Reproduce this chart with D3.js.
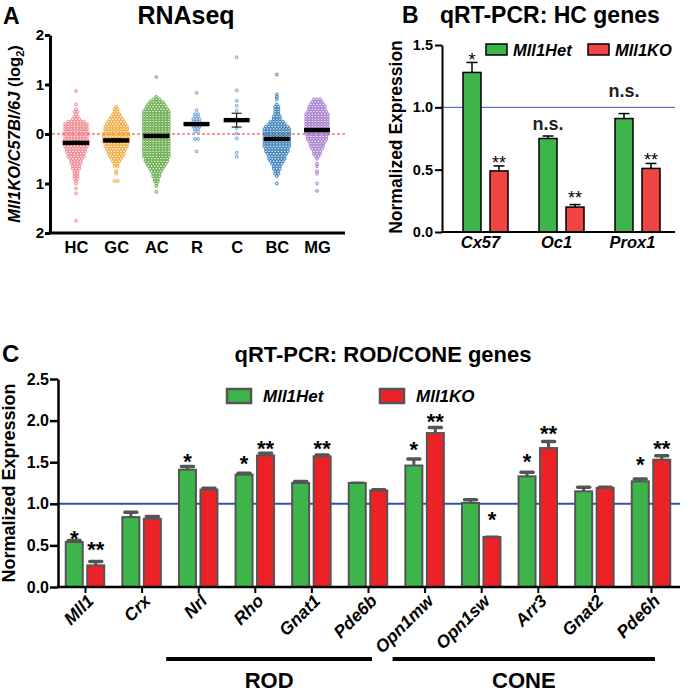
<!DOCTYPE html>
<html><head><meta charset="utf-8">
<script src="https://cdn.jsdelivr.net/npm/d3@7"></script>
<style>body{margin:0;background:#fff}svg{display:block}</style>
</head><body><svg id="fig" width="685" height="692"></svg>
<script>
// ================= DATA =================
// Panel A: RNAseq log2 ratios (rows of the Prism scatter: [value, number of cells in row])
const rnaGroups = ["HC","GC","AC","R","C","BC","MG"];
const rnaMeans  = [-0.18,-0.13,-0.04,0.20,0.28,-0.10,0.08];
const rnaSem    = [0.03,0.03,0.02,0.03,0.14,0.03,0.03];
const hcRows = [[0.87,1],[0.6,1],[0.5,1],[0.45,2],[0.4,1],[0.35,2],[0.3,3],[0.25,6],[0.2,8],[0.15,8],[0.1,8],[0.05,8],[0,9],[-0.05,8],[-0.1,8],[-0.15,9],[-0.2,9],[-0.25,8],[-0.3,7],[-0.35,7],[-0.4,6],[-0.45,6],[-0.5,5],[-0.55,4],[-0.6,4],[-0.65,3],[-0.7,3],[-0.75,2],[-0.8,2],[-0.85,2],[-0.9,2],[-0.95,1],[-1.0,1],[-1.1,1],[-1.2,1],[-1.75,1]];
const gcRows = [[0.55,1],[0.5,2],[0.45,2],[0.4,3],[0.35,4],[0.3,5],[0.25,6],[0.2,7],[0.15,8],[0.1,8],[0.05,8],[0,9],[-0.05,9],[-0.1,9],[-0.15,9],[-0.2,8],[-0.25,8],[-0.3,7],[-0.35,6],[-0.4,6],[-0.45,5],[-0.5,4],[-0.55,3],[-0.6,2],[-0.65,2],[-0.75,1],[-0.8,1],[-0.95,2]];
const acRows = [[1.15,1],[0.75,1],[0.7,3],[0.65,5],[0.6,6],[0.55,7],[0.5,8],[0.45,9],[0.4,9],[0.35,9],[0.3,9],[0.25,9],[0.2,9],[0.15,9],[0.1,9],[0.05,9],[0,9],[-0.05,9],[-0.1,9],[-0.15,9],[-0.2,9],[-0.25,9],[-0.3,9],[-0.35,9],[-0.4,9],[-0.45,9],[-0.5,8],[-0.55,8],[-0.6,7],[-0.65,6],[-0.7,5],[-0.75,4],[-0.8,3],[-0.85,3],[-0.9,2],[-0.95,2],[-1.0,1],[-1.05,1],[-1.17,1]];
const rRows  = [[0.83,1],[0.48,1],[0.4,2],[0.35,2],[0.3,3],[0.25,3],[0.2,4],[0.15,3],[0.1,2],[0.05,2],[-0.1,2],[-0.35,1]];
const cRows  = [[1.55,1],[0.88,1],[0.67,1],[0.57,1],[0.47,1],[0.3,1],[0.27,1],[0.12,1],[0.01,1],[-0.09,1],[-0.38,1],[-0.46,1]];
const bcRows = [[1.2,1],[0.8,1],[0.75,1],[0.7,1],[0.6,1],[0.55,2],[0.5,2],[0.45,2],[0.4,2],[0.35,3],[0.3,3],[0.25,5],[0.2,6],[0.15,8],[0.1,9],[0.05,9],[0,9],[-0.05,9],[-0.1,9],[-0.15,9],[-0.2,9],[-0.25,9],[-0.3,8],[-0.35,8],[-0.4,7],[-0.45,6],[-0.5,6],[-0.55,5],[-0.6,4],[-0.65,3],[-0.7,3],[-0.75,2],[-0.8,2],[-0.85,1],[-1.0,1]];
const mgRows = [[0.7,3],[0.65,4],[0.6,5],[0.55,6],[0.5,6],[0.45,7],[0.4,8],[0.35,8],[0.3,8],[0.25,8],[0.2,8],[0.15,8],[0.1,8],[0.05,8],[0,8],[-0.05,7],[-0.1,7],[-0.15,6],[-0.2,5],[-0.25,5],[-0.3,4],[-0.35,3],[-0.4,3],[-0.45,2],[-0.5,1],[-0.6,1],[-0.65,1],[-0.75,1],[-0.8,1],[-1.0,1],[-1.15,1]];
const rnaRows = [hcRows, gcRows, acRows, rRows, cRows, bcRows, mgRows];
const rnaTicks = [-2,-1,0,1,2];

// Panel B: qRT-PCR HC genes
const hcGenes   = ["Cx57","Oc1","Prox1"];
const hcHet     = [1.28,0.75,0.91];
const hcHetErr  = [0.08,0.02,0.04];
const hcKO      = [0.49,0.20,0.51];
const hcKOErr   = [0.04,0.02,0.04];
const hcHetMark = ["*","n.s.","n.s."];
const hcHetMarkAt = [1.39,0.82,1.08];
const hcKOMark  = ["**","**","**"];
const hcKOMarkAt  = [0.56,0.28,0.59];
const hcTicks = [0,0.5,1.0,1.5];

// Panel C: qRT-PCR ROD/CONE genes
const pcGenes  = ["Mll1","Crx","Nrl","Rho","Gnat1","Pde6b","Opn1mw","Opn1sw","Arr3","Gnat2","Pde6h"];
const pcHet    = [0.54,0.84,1.41,1.35,1.25,1.25,1.46,1.01,1.33,1.15,1.27];
const pcHetErr = [0.03,0.07,0.05,0.03,0.03,0.01,0.09,0.05,0.06,0.06,0.04];
const pcKO     = [0.26,0.82,1.17,1.58,1.57,1.16,1.85,0.60,1.67,1.19,1.53];
const pcKOErr  = [0.06,0.04,0.03,0.04,0.03,0.02,0.08,0.01,0.09,0.02,0.06];
const pcHetMark   = ["*","","*","*","","","*","","*","","*"];
const pcHetMarkAt = [0.60,0,1.53,1.50,0,0,1.67,0,1.53,0,1.49];
const pcKOMark    = ["**","","","**","**","","**","*","**","","**"];
const pcKOMarkAt  = [0.47,0,0,1.68,1.68,0,2.01,0.83,1.86,0,1.68];
const pcTicks = [0,0.5,1.0,1.5,2.0,2.5];
const rodGenes  = ["Nrl","Rho","Gnat1","Pde6b"];
const coneGenes = ["Opn1mw","Opn1sw","Arr3","Gnat2","Pde6h"];
const seriesNames = ["Mll1Het","Mll1KO"];

// ================= STYLE =================
const FONT = '"Liberation Sans", Arial, Helvetica, sans-serif';
const rnaColors = ["#ee7f88","#f2a431","#5aa43b","#5b9bd5","#5b9bd5","#2a76b6","#9d74c6"];
const gB = "#3db54a", rB = "#ee4444";
const gC = "#3db54a", rC = "#ec2227";

const svg = d3.select("#fig").attr("font-family", FONT);

function txt(sel, x, y, s, size, opts={}) {
  return sel.append("text").attr("x", x).attr("y", y).text(s)
    .attr("font-size", size).attr("font-weight", opts.weight || "bold")
    .attr("font-style", opts.italic ? "italic" : "normal")
    .attr("text-anchor", opts.anchor || "start").attr("fill", "#000");
}
function styleAxis(ax, size, w) {
  ax.selectAll("text").attr("font-size", size).attr("font-weight", "bold").attr("font-family", FONT).attr("fill", "#000");
  ax.selectAll(".tick line").attr("stroke-width", w).attr("stroke", "#000");
  ax.select(".domain").attr("stroke-width", w).attr("stroke", "#000");
}

// ================= PANEL A =================
const A = svg.append("g");
const xA = d3.scalePoint().domain(rnaGroups).range([76, 317]);
const yA = d3.scaleLinear().domain([-2, 2]).range([233, 35]);
txt(A, 3, 24, "A", 23);
txt(A, 186, 24, "RNAseq", 25, {anchor: "middle"});

const ayA = A.append("g").attr("transform", "translate(50,0)")
  .call(d3.axisLeft(yA).tickValues(rnaTicks).tickFormat(d => Math.abs(d)).tickSize(5).tickSizeOuter(0));
styleAxis(ayA, 15, 3);
ayA.selectAll(".tick text").attr("x", -6);

const axA = A.append("g").attr("transform", "translate(0,233)")
  .call(d3.axisBottom(xA).tickSize(0).tickSizeOuter(0));
axA.select(".domain").remove();
axA.selectAll("text").attr("font-size", 16.5).attr("font-weight", "bold").attr("font-family", FONT).attr("fill", "#000").attr("y", 8);
A.append("line").attr("x1", 48.5).attr("x2", 345).attr("y1", 233).attr("y2", 233).attr("stroke", "#000").attr("stroke-width", 3);

A.append("line").attr("x1", 52).attr("x2", 345).attr("y1", yA(0)).attr("y2", yA(0))
  .attr("stroke", "#e8302a").attr("stroke-width", 1).attr("stroke-dasharray", "3,2");

const pitch = 3.1;
rnaGroups.forEach((g, gi) => {
  const pts = [];
  rnaRows[gi].forEach(([v, n]) => { for (let i = 0; i < n; i++) pts.push({v, k: i - (n - 1) / 2}); });
  A.append("g").selectAll("circle").data(pts).join("circle")
    .attr("cx", d => xA(g) + d.k * pitch).attr("cy", d => yA(d.v)).attr("r", 1.45)
    .attr("fill", rnaColors[gi]).attr("fill-opacity", 0.2)
    .attr("stroke", rnaColors[gi]).attr("stroke-width", 0.85);
});
rnaGroups.forEach((g, gi) => {
  const cx = xA(g), m = rnaMeans[gi], s = rnaSem[gi];
  A.append("line").attr("x1", cx).attr("x2", cx).attr("y1", yA(m - s)).attr("y2", yA(m + s)).attr("stroke", "#000").attr("stroke-width", 1);
  [m - s, m + s].forEach(v => A.append("line").attr("x1", cx - 5).attr("x2", cx + 5).attr("y1", yA(v)).attr("y2", yA(v)).attr("stroke", "#000").attr("stroke-width", 1));
  A.append("rect").attr("x", cx - 13).attr("width", 26).attr("y", yA(m) - 2.2).attr("height", 4.4).attr("fill", "#000");
});

const ytA = A.append("text").attr("transform", `translate(20,${yA(0)}) rotate(-90)`)
  .attr("text-anchor", "middle").attr("font-size", 16.5).attr("font-weight", "bold");
ytA.append("tspan").attr("font-style", "italic").text("Mll1KO/C57Bl/6J");
ytA.append("tspan").text(" (log");
ytA.append("tspan").attr("font-size", 11).attr("dy", 4).text("2");
ytA.append("tspan").attr("dy", -4).text(")");

// ================= PANEL B =================
const B = svg.append("g");
const xB = d3.scalePoint().domain(hcGenes).range([485.5, 637.5]);
const yB = d3.scaleLinear().domain([0, 1.5]).range([232, 45]);
txt(B, 402, 23, "B", 23);
txt(B, 440, 23, "qRT-PCR: HC genes", 23);

B.append("line").attr("x1", 442).attr("x2", 675).attr("y1", yB(1)).attr("y2", yB(1)).attr("stroke", "#3f51a8").attr("stroke-width", 1);

const bw = 18, bo = 13.5;
const barsB = [[hcHet, hcHetErr, gB, -bo, hcHetMark, hcHetMarkAt], [hcKO, hcKOErr, rB, bo, hcKOMark, hcKOMarkAt]];
barsB.forEach(([vals, errs, col, off, marks, markAt]) => {
  hcGenes.forEach((g, i) => {
    const cx = xB(g) + off;
    B.append("line").attr("x1", cx).attr("x2", cx).attr("y1", yB(vals[i])).attr("y2", yB(vals[i] + errs[i])).attr("stroke", "#000").attr("stroke-width", 1.5);
    B.append("line").attr("x1", cx - 5.5).attr("x2", cx + 5.5).attr("y1", yB(vals[i] + errs[i])).attr("y2", yB(vals[i] + errs[i])).attr("stroke", "#000").attr("stroke-width", 1.5);
    B.append("rect").attr("x", cx - bw / 2).attr("width", bw).attr("y", yB(vals[i])).attr("height", yB(0) - yB(vals[i]))
      .attr("fill", col).attr("stroke", "#000").attr("stroke-width", 1.5);
    const m = marks[i];
    if (m) {
      const star = m.includes("*");
      const fs = star ? 18 : 18;
      txt(B, cx, yB(markAt[i]) + (star ? 0.4 * fs : 0), m, fs, {anchor: "middle", weight: star ? "normal" : "bold"}).attr("fill", star ? "#000" : "#222");
    }
  });
});

const ayB = B.append("g").attr("transform", "translate(442,0)")
  .call(d3.axisLeft(yB).tickValues(hcTicks).tickFormat(d3.format(".1f")).tickSize(7).tickSizeOuter(0));
styleAxis(ayB, 14.5, 2);
ayB.selectAll(".tick text").attr("x", -9);
B.append("line").attr("x1", 441).attr("x2", 675).attr("y1", 232).attr("y2", 232).attr("stroke", "#000").attr("stroke-width", 2);
hcGenes.forEach(g => txt(B, xB(g) - 5, 248, g, 16.5, {anchor: "middle", italic: true}));

B.append("text").attr("transform", "translate(402,137) rotate(-90)").attr("text-anchor", "middle")
  .attr("font-size", 17.5).attr("font-weight", "bold").text("Normalized Expression");

// legend B
[[gB, 486, 513], [rB, 588, 615]].forEach(([col, rx, tx], i) => {
  B.append("rect").attr("x", rx).attr("y", 44).attr("width", 21).attr("height", 11).attr("fill", col).attr("stroke", "#000").attr("stroke-width", 1.5);
  txt(B, tx, 55.5, seriesNames[i], 16.5, {italic: true});
});

// ================= PANEL C =================
const C = svg.append("g");
const xC = d3.scalePoint().domain(pcGenes).range([85, 651]);
const yC = d3.scaleLinear().domain([0, 2.5]).range([587, 379]);
txt(C, 2, 362, "C", 24);
txt(C, 383, 362, "qRT-PCR: ROD/CONE genes", 22, {anchor: "middle"});

C.append("line").attr("x1", 58).attr("x2", 680).attr("y1", yC(1)).attr("y2", yC(1)).attr("stroke", "#3352a8").attr("stroke-width", 2);

const cw = 17, co = 10.75;
const barsC = [[pcHet, pcHetErr, gC, -co, pcHetMark, pcHetMarkAt], [pcKO, pcKOErr, rC, co, pcKOMark, pcKOMarkAt]];
barsC.forEach(([vals, errs, col, off, marks, markAt]) => {
  pcGenes.forEach((g, i) => {
    const cx = xC(g) + off;
    const top = yC(vals[i] + errs[i]);
    C.append("line").attr("x1", cx).attr("x2", cx).attr("y1", yC(vals[i])).attr("y2", top).attr("stroke", "#555").attr("stroke-width", 3);
    C.append("line").attr("x1", cx - 6).attr("x2", cx + 6).attr("y1", top + 1).attr("y2", top + 1).attr("stroke", "#555").attr("stroke-width", 3.5).attr("stroke-linecap", "round");
    C.append("rect").attr("x", cx - cw / 2).attr("width", cw).attr("y", yC(vals[i])).attr("height", yC(0) - yC(vals[i]))
      .attr("fill", col).attr("stroke", "#555").attr("stroke-width", 2);
    const m = marks[i];
    if (m) txt(C, cx, yC(markAt[i]) + 0.4 * 22, m, 22, {anchor: "middle"});
  });
});

const ayC = C.append("g").attr("transform", "translate(58,0)")
  .call(d3.axisLeft(yC).tickValues(pcTicks).tickFormat(d3.format(".1f")).tickSize(8).tickSizeOuter(0));
styleAxis(ayC, 16, 2.5);
ayC.selectAll(".tick text").attr("x", -9);
const axC = C.append("g").attr("transform", "translate(0,587)")
  .call(d3.axisBottom(xC).tickSize(6).tickSizeOuter(0));
axC.select(".domain").remove();
axC.selectAll(".tick line").attr("stroke", "#000").attr("stroke-width", 2);
axC.selectAll(".tick text").remove();
C.append("line").attr("x1", 57).attr("x2", 680).attr("y1", 587).attr("y2", 587).attr("stroke", "#000").attr("stroke-width", 2.5);
pcGenes.forEach(g => {
  C.append("text").attr("transform", `translate(${xC(g) + 10},${602}) rotate(-45)`)
    .attr("text-anchor", "end").attr("font-size", 17.5).attr("font-weight", "bold").attr("font-style", "italic").text(g);
});

C.append("text").attr("transform", "translate(15,483) rotate(-90)").attr("text-anchor", "middle")
  .attr("font-size", 18).attr("font-weight", "bold").text("Normalized Expression");

// legend C
[[gC, 227, 263], [rC, 380, 416]].forEach(([col, rx, tx], i) => {
  C.append("rect").attr("x", rx).attr("y", 389).attr("width", 24).attr("height", 14).attr("fill", col).attr("stroke", "#555").attr("stroke-width", 2.5);
  txt(C, tx, 402, seriesNames[i], 17, {italic: true});
});

// ROD / CONE brackets
[[rodGenes, "ROD"], [coneGenes, "CONE"]].forEach(([gs, lab]) => {
  const x1 = xC(gs[0]) - 32, x2 = xC(gs[gs.length - 1]) + 4;
  C.append("line").attr("x1", x1).attr("x2", x2).attr("y1", 659).attr("y2", 659).attr("stroke", "#000").attr("stroke-width", 4);
  txt(C, (x1 + x2) / 2, 688, lab, 22, {anchor: "middle"});
});
</script></body></html>
